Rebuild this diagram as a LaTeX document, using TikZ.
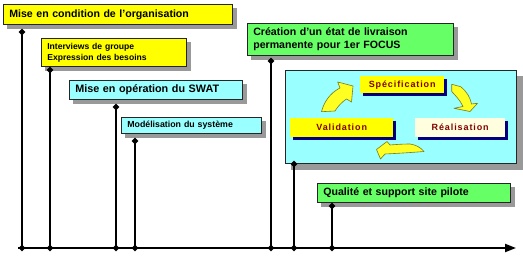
\documentclass[tikz,border=0pt]{standalone}
\usepackage{fontspec}
\setmainfont{Liberation Sans}
\usetikzlibrary{shapes.geometric,arrows.meta}
\definecolor{byellow}{HTML}{FFFF00}
\definecolor{bcyan}{HTML}{99FFFF}
\definecolor{bgreen}{HTML}{66FF66}
\definecolor{bcream}{HTML}{FFFFE0}
\definecolor{dred}{HTML}{800000}
\definecolor{navyc}{HTML}{000080}
\definecolor{arrowy}{HTML}{FFFF22}
\definecolor{arrowo}{HTML}{7A7A20}
\definecolor{shadowg}{HTML}{999999}
\pgfdeclarelayer{shadowlayer}
\pgfdeclarelayer{panellayer}
\pgfdeclarelayer{innershadowlayer}
\pgfsetlayers{shadowlayer,panellayer,innershadowlayer,main}
\begin{document}
\begin{tikzpicture}[x=1pt,y=-1pt,
  box/.style={draw=black!85, line width=0.6pt, inner xsep=6pt, inner ysep=0pt,
    anchor=north west, align=left, font=\bfseries},
  inbox/.style={inner sep=0pt, anchor=north west, align=center,
    font=\bfseries\fontsize{9}{10}\selectfont\addfontfeature{LetterSpace=10}, text=dred},
  gshadow/.style={fill=shadowg},
  nshadow/.style={fill=navyc},
  dmd/.style={diamond, fill=black, inner sep=0pt, minimum size=7pt},
  vline/.style={line width=1.5pt},
  blockarrow/.style={fill=arrowy, draw=arrowo, line width=0.6pt, line join=round}
]
\useasboundingbox (0,0) rectangle (523,261);

% outer boxes
\node[box, fill=byellow, text width=217pt, minimum height=20pt,
  font=\bfseries\fontsize{10.6}{12}\selectfont] (b1) at (3,4) {Mise en condition de l'organisation};
\node[box, fill=byellow, text width=133pt, minimum height=28pt,
  font=\bfseries\fontsize{8.6}{11}\selectfont] (b2) at (41,38) {Interviews de groupe\\Expression des besoins};
\node[box, fill=bcyan, text width=161pt, minimum height=19pt,
  font=\bfseries\fontsize{10.8}{12}\selectfont] (b3) at (69,80) {Mise en opération du SWAT};
\node[box, fill=bcyan, text width=128pt, minimum height=16pt,
  font=\bfseries\fontsize{8.8}{10}\selectfont] (b4) at (121,117) {Modélisation du système};
\node[box, fill=bgreen, text width=194pt, minimum height=32pt,
  font=\bfseries\fontsize{10.6}{12.5}\selectfont] (b5) at (247,23) {Création d’un état de livraison\\permanente pour 1er FOCUS};
\begin{pgfonlayer}{panellayer}
\node[box, fill=bcyan, minimum width=231pt, minimum height=93pt, inner sep=0pt] (b6) at (285,70) {};
\end{pgfonlayer}
\node[box, fill=bgreen, text width=181pt, minimum height=19pt,
  font=\bfseries\fontsize{10.6}{12}\selectfont] (b7) at (317,183) {Qualité et support site pilote};

% cycle arrows
\path[blockarrow] (321.5,111.7) .. controls (324,102) and (330,93) .. (340,88)
  -- (337.7,82) -- (353,86) -- (351.5,102) -- (346.5,99)
  .. controls (342,102) and (338,106) .. (335,111) -- cycle;
\path[blockarrow] (451.7,84.3) -- (460.7,86.7)
  .. controls (467,92) and (470,97) .. (471.5,104)
  -- (477.5,103.3) -- (470,111.5) -- (454,108.3) -- (463,106.5)
  .. controls (460,100) and (455,95) .. (451.7,91.5) -- cycle;
\path[blockarrow] (424,151.5) .. controls (420,147) and (416,145) .. (410,144)
  .. controls (403,144) and (396,144.5) .. (390,145)
  -- (387,141.5) -- (376.5,149.5) -- (380.5,159) -- (385,154)
  .. controls (395,153.5) and (405,153) .. (424,151.5) -- cycle;

% inner boxes
\node[inbox, fill=byellow, minimum width=84pt, minimum height=17pt] (spec) at (360,76) {Spécification};
\node[inbox, fill=byellow, minimum width=103pt, minimum height=19pt] (valid) at (290,118) {Validation};
\node[inbox, fill=bcream, minimum width=90pt, minimum height=19pt] (real) at (415,118) {Réalisation};

% shadows
\begin{pgfonlayer}{shadowlayer}
\foreach \b in {b1,b2,b3,b4,b5,b7}
  \fill[gshadow] ([shift={(4,4)}]\b.north west) rectangle ([shift={(4,4)}]\b.south east);
\fill[gshadow] ([shift={(6,6)}]b6.north west) rectangle ([shift={(6,6)}]b6.south east);
\end{pgfonlayer}
\begin{pgfonlayer}{innershadowlayer}
\foreach \b in {spec,valid,real}
  \fill[nshadow] ([shift={(3,3)}]\b.north west) rectangle ([shift={(3,3)}]\b.south east);
\end{pgfonlayer}

% timeline
\coordinate (tstart) at (18,248);
\coordinate (tend) at (516,248);
\draw[line width=2pt, -{Triangle[length=11pt,width=8pt]}] (tstart) -- (tend);

% milestones
\foreach \i/\x/\y in {1/22/32, 2/50/70, 3/116/107, 4/135/141, 5/271/61, 6/294/164, 7/332/206} {
  \coordinate (t\i) at (\x,\y);
  \coordinate (g\i) at (\x,248);
  \draw[vline] (t\i) -- (g\i);
  \node[dmd] (dt\i) at (t\i) {};
  \node[dmd] (dg\i) at (g\i) {};
}
\end{tikzpicture}
\end{document}
